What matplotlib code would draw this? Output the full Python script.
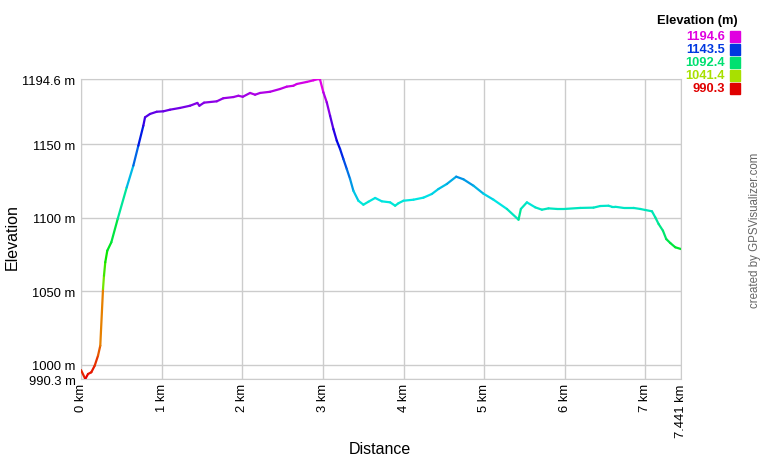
import colorsys
import numpy as np
import matplotlib
matplotlib.use("Agg")
import matplotlib.pyplot as plt
from matplotlib.collections import LineCollection

# track: distance (km) and elevation (m)
dist_km = [0.0, 0.053, 0.087, 0.128, 0.170, 0.211, 0.239, 0.273, 0.285, 0.301,
           0.326, 0.376, 0.455, 0.567, 0.649, 0.711, 0.773, 0.794, 0.856, 0.939,
           1.021, 1.104, 1.228, 1.352, 1.443, 1.468, 1.526, 1.684, 1.765, 1.890,
           1.952, 2.006, 2.097, 2.159, 2.221, 2.345, 2.469, 2.552, 2.634, 2.676,
           2.800, 2.882, 2.944, 2.965, 3.006, 3.048, 3.089, 3.130, 3.172, 3.213,
           3.254, 3.296, 3.337, 3.378, 3.440, 3.502, 3.564, 3.648, 3.731, 3.834,
           3.896, 3.937, 3.999, 4.123, 4.247, 4.351, 4.433, 4.537, 4.653, 4.743,
           4.868, 4.991, 5.116, 5.282, 5.426, 5.455, 5.530, 5.633, 5.716, 5.798,
           5.902, 5.996, 6.191, 6.356, 6.439, 6.542, 6.584, 6.625, 6.728, 6.852,
           6.935, 6.998, 7.081, 7.122, 7.163, 7.217, 7.258, 7.308, 7.370, 7.441]
elev_m = [996.4, 990.3, 993.7, 994.9, 999.4, 1006.2, 1013.0, 1051.6, 1060.6, 1069.8,
          1077.7, 1083.4, 1099.3, 1120.8, 1135.6, 1149.2, 1162.8, 1168.5, 1170.8, 1172.3,
          1172.6, 1173.7, 1174.9, 1176.4, 1178.3, 1176.4, 1178.5, 1179.4, 1181.5, 1182.3,
          1183.2, 1182.5, 1185.1, 1183.9, 1185.1, 1185.9, 1187.8, 1189.4, 1190.0, 1191.2,
          1192.6, 1193.7, 1194.6, 1194.1, 1185.5, 1178.7, 1169.6, 1160.5, 1152.6, 1146.9,
          1140.1, 1133.3, 1126.5, 1118.5, 1111.7, 1109.0, 1111.0, 1113.6, 1111.3, 1110.6,
          1108.3, 1110.0, 1111.7, 1112.4, 1113.8, 1116.3, 1119.7, 1123.1, 1128.1, 1126.3,
          1121.9, 1116.5, 1112.4, 1106.1, 1098.8, 1106.1, 1110.6, 1107.2, 1105.6, 1106.5,
          1106.1, 1106.1, 1106.8, 1107.0, 1108.1, 1108.3, 1107.6, 1107.6, 1106.8, 1106.8,
          1106.1, 1105.4, 1104.5, 1100.4, 1095.9, 1091.3, 1085.6, 1082.9, 1080.0, 1078.8]

y_ticks = [990.3, 1000, 1050, 1100, 1150, 1194.6]
y_labels = ["990.3 m", "1000 m", "1050 m", "1100 m", "1150 m", "1194.6 m"]
x_ticks = [0, 1, 2, 3, 4, 5, 6, 7, 7.441]
x_labels = ["0 km", "1 km", "2 km", "3 km", "4 km", "5 km", "6 km", "7 km", "7.441 km"]
legend_vals = [1194.6, 1143.5, 1092.4, 1041.4, 990.3]

emin, emax = 990.3, 1194.6


def elev_color(e, v=0.9):
    h = (e - emin) / (emax - emin) * 300 / 360
    return colorsys.hsv_to_rgb(h, 1.0, v)


plt.rcParams["font.family"] = ["Liberation Sans", "DejaVu Sans"]

fig = plt.figure(figsize=(7.6, 4.6), dpi=100)
ax = fig.add_axes([81 / 760, 80 / 460, 600 / 760, 300 / 460])

x = np.array(dist_km)
y = np.array(elev_m)
segs = np.stack([np.column_stack([x[:-1], y[:-1]]), np.column_stack([x[1:], y[1:]])], axis=1)
lc = LineCollection(segs, colors=[elev_color(e) for e in y[:-1]], linewidths=1.6,
                    capstyle="round", joinstyle="round", zorder=3)
ax.add_collection(lc)

ax.set_xlim(0, 7.441)
ax.set_ylim(emin, emax)
ax.set_xticks(x_ticks)
ax.set_xticklabels(x_labels, rotation=90, fontsize=9.4)
ax.set_yticks(y_ticks)
ax.set_yticklabels(y_labels, fontsize=9.4)
ax.tick_params(axis="y", length=0, pad=4)
ax.tick_params(axis="x", length=0, pad=3)
ax.grid(True, color="#cccccc", linewidth=1)
for s in ax.spines.values():
    s.set_color("#cccccc")

fig.text(380 / 760, 1 - 450 / 460, "Distance", ha="center", va="center", fontsize=11.5)
fig.text(12 / 760, 1 - 237 / 460, "Elevation", ha="center", va="center",
         rotation=90, fontsize=11.5)

# legend on the top right
fig.text(738 / 760, 1 - 21 / 460, "Elevation (m)", ha="right", va="center",
         fontsize=9.3, fontweight="bold")
for i, v in enumerate(legend_vals):
    yy = 1 - (37 + i * 13.1) / 460
    fig.text(725 / 760, yy, f"{v:.1f}", ha="right", va="center", fontsize=9.3,
             fontweight="bold", color=elev_color(v, 0.88))
    fig.patches.append(plt.Rectangle((730 / 760, yy - 5.5 / 460), 10 / 760, 11 / 460,
                                     transform=fig.transFigure, color=elev_color(v, 0.88)))

fig.text(755 / 760, 1 - 230 / 460, "created by GPSVisualizer.com", rotation=90,
         ha="center", va="center", fontsize=8.3, color="#666666")

fig.savefig("out.png", dpi=100)
